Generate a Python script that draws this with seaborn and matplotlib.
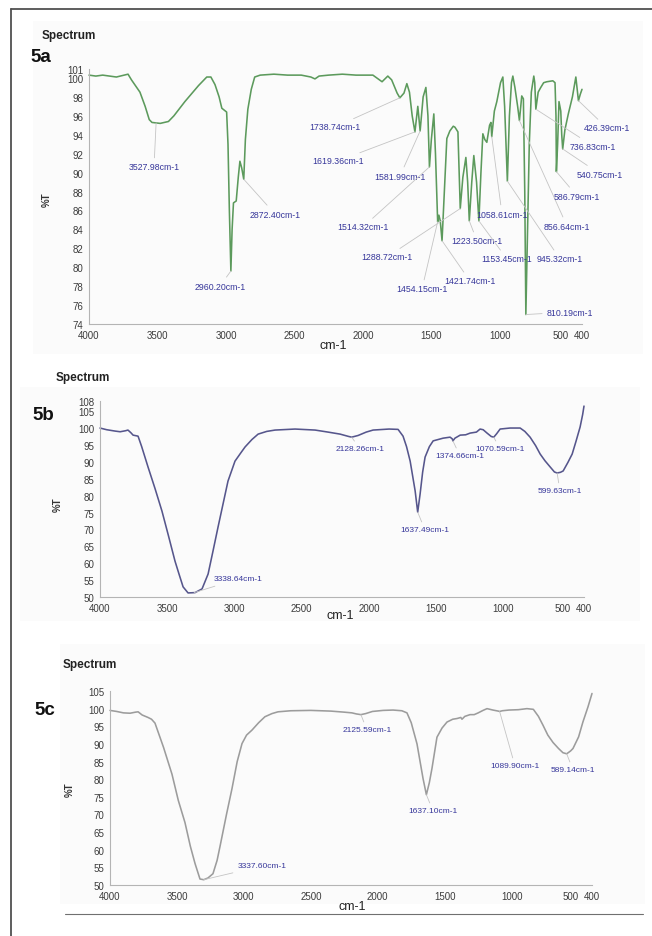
import numpy as np
import pandas as pd
import matplotlib
matplotlib.use("Agg")
import matplotlib.pyplot as plt
from matplotlib.lines import Line2D
from matplotlib.patches import Rectangle
import seaborn as sns

# ---------------- data ----------------
wn_a = [4000, 3950, 3900, 3850, 3800, 3715, 3690, 3628, 3590, 3560, 3540, 3480, 3420, 3380,
        3300, 3200, 3140, 3110, 3080, 3050, 3030, 2995, 2985, 2975, 2964, 2955, 2945, 2925,
        2910, 2898, 2885, 2870, 2858, 2840, 2815, 2790, 2750, 2650, 2550, 2450, 2380, 2350,
        2320, 2250, 2150, 2050, 1950, 1927, 1880, 1860, 1818, 1790, 1750, 1730, 1700, 1679,
        1660, 1640, 1620, 1599, 1582, 1560, 1540, 1525, 1514, 1500, 1482, 1470, 1454, 1445,
        1435, 1422, 1405, 1387, 1365, 1340, 1328, 1306, 1289, 1270, 1248, 1235, 1223, 1205,
        1190, 1170, 1153, 1138, 1124, 1110, 1095, 1075, 1065, 1059, 1040, 1022, 995, 978,
        965, 955, 945, 930, 915, 905, 890, 870, 857, 840, 828, 818, 810, 800, 785, 770,
        752, 745, 737, 720, 701, 680, 657, 613, 597, 590, 587, 578, 568, 555, 548, 541,
        525, 500, 470, 445, 430, 426, 412, 400]
t_a = [100.3, 100.2, 100.3, 100.2, 100.1, 100.4, 99.8, 98.5, 97.0, 95.6, 95.3, 95.2, 95.4, 96.0,
       97.5, 99.2, 100.1, 100.1, 99.3, 98.0, 96.8, 96.4, 93.0, 86.0, 79.6, 84.0, 86.8, 87.0,
       89.5, 91.2, 90.5, 89.3, 93.5, 96.7, 98.8, 100.1, 100.3, 100.4, 100.3, 100.3, 100.1, 99.9,
       100.2, 100.3, 100.4, 100.3, 100.3, 100.3, 99.8, 99.6, 100.2, 99.8, 98.4, 97.9, 98.4, 99.4,
       98.5, 96.0, 94.3, 97.0, 94.4, 98.0, 99.0, 96.0, 90.6, 93.5, 96.2, 92.0, 84.8, 85.5,
       84.9, 82.8, 88.0, 93.6, 94.4, 94.9, 94.8, 94.3, 86.2, 89.5, 91.6, 89.0, 84.9, 89.0,
       91.8, 89.0, 84.9, 90.0, 94.1, 93.5, 93.2, 95.0, 95.3, 93.8, 96.5, 97.5, 99.5, 100.1,
       97.0, 93.0, 89.1, 96.0, 99.5, 100.2, 99.0, 97.0, 95.5, 98.1, 97.8, 88.0, 75.0, 82.0, 93.0, 98.5,
       100.2, 99.5, 96.7, 98.5, 99.0, 99.5, 99.6, 99.7, 99.5, 96.0, 90.1, 93.0, 97.5, 96.5, 94.0, 92.5,
       94.5, 96.2, 98.0, 100.1, 98.2, 97.6, 98.3, 98.8]

wn_b = [4000, 3950, 3888, 3850, 3810, 3792, 3770, 3754, 3717, 3690, 3643, 3590, 3539, 3490,
        3442, 3410, 3382, 3345, 3293, 3241, 3196, 3160, 3122, 3085, 3048, 2996, 2950, 2921,
        2870, 2824, 2760, 2698, 2549, 2400, 2304, 2214, 2150, 2128, 2080, 2020, 1969, 1850,
        1783, 1746, 1720, 1693, 1656, 1637, 1619, 1600, 1582, 1550, 1522, 1448, 1396, 1380,
        1375, 1360, 1321, 1280, 1247, 1200, 1173, 1150, 1121, 1090, 1071, 1050, 1024, 950,
        875, 840, 801, 760, 726, 690, 652, 620, 600, 575, 555, 520, 488, 460, 429, 410, 400]
t_b = [100.0, 99.5, 99.1, 98.9, 99.2, 99.4, 98.6, 97.9, 97.6, 94.5, 88.5, 82.0, 75.4, 68.0,
       60.6, 56.5, 53.0, 51.2, 51.3, 52.4, 56.8, 63.5, 70.7, 77.5, 84.3, 90.2, 92.8, 94.4,
       96.6, 98.2, 99.0, 99.4, 99.7, 99.4, 98.8, 98.2, 97.5, 97.3, 97.8, 98.8, 99.4, 99.7,
       99.6, 97.6, 94.5, 90.2, 81.4, 75.1, 80.5, 87.0, 91.4, 94.5, 96.2, 97.0, 97.3, 96.8,
       96.2, 97.0, 97.9, 98.0, 98.5, 98.8, 99.7, 99.5, 98.5, 97.5, 97.3, 98.3, 99.7, 100.0,
       100.0, 99.0, 97.3, 94.8, 92.3, 90.3, 88.5, 87.0, 86.7, 86.9, 87.3, 89.8, 92.3, 96.0, 100.3, 104.0, 106.5]

wn_c = [4000, 3950, 3900, 3850, 3810, 3790, 3760, 3716, 3690, 3664, 3600, 3537, 3490, 3440,
        3400, 3365, 3328, 3300, 3268, 3231, 3200, 3178, 3130, 3089, 3050, 3014, 2980, 2940,
        2890, 2843, 2790, 2745, 2650, 2500, 2350, 2250, 2193, 2160, 2126, 2090, 2040, 1960,
        1886, 1820, 1782, 1750, 1707, 1662, 1637, 1615, 1595, 1558, 1520, 1483, 1440, 1408,
        1380, 1371, 1350, 1311, 1280, 1250, 1214, 1184, 1140, 1100, 1090, 1070, 1020, 950,
        886, 838, 800, 766, 730, 691, 650, 617, 589, 560, 542, 500, 468, 430, 400]
t_c = [99.5, 99.2, 98.8, 98.7, 99.0, 99.1, 98.2, 97.5, 97.0, 95.9, 89.0, 81.4, 74.0, 67.7,
       61.0, 56.1, 51.7, 51.5, 52.0, 53.2, 57.0, 61.0, 70.0, 77.3, 85.0, 90.1, 92.5, 93.9,
       96.0, 97.7, 98.6, 99.1, 99.4, 99.5, 99.3, 99.0, 98.8, 98.5, 98.3, 98.6, 99.2, 99.5,
       99.6, 99.4, 98.8, 96.0, 90.0, 80.2, 75.6, 79.0, 83.1, 91.9, 94.5, 96.2, 97.0, 97.2,
       97.5, 97.0, 97.8, 98.3, 98.3, 98.8, 99.5, 100.0, 99.6, 99.3, 99.2, 99.4, 99.6, 99.7,
       100.0, 99.8, 97.8, 95.3, 92.5, 90.4, 88.7, 87.5, 87.2, 88.0, 88.7, 92.0, 96.2, 100.5, 104.3]

# peak labels: text, peak wavenumber, label centre (pixel position in figure)
labels_a = ["3527.98cm-1", "2960.20cm-1", "2872.40cm-1", "1738.74cm-1", "1619.36cm-1",
            "1581.99cm-1", "1514.32cm-1", "1288.72cm-1", "1454.15cm-1", "1421.74cm-1",
            "1223.50cm-1", "1058.61cm-1", "1153.45cm-1", "945.32cm-1", "856.64cm-1",
            "810.19cm-1", "586.79cm-1", "540.75cm-1", "736.83cm-1", "426.39cm-1"]
peaks_a = [3510, 2964, 2870, 1730, 1620, 1582, 1514, 1289, 1454, 1422,
           1223, 1059, 1153, 945, 857, 810, 587, 541, 737, 426]
lpos_a = [(154, 168), (220, 287), (275, 215), (335, 128), (338, 162),
          (400, 177), (363, 228), (387, 258), (422, 290), (470, 282),
          (477, 242), (502, 215), (507, 260), (560, 260), (567, 227),
          (570, 313), (577, 197), (600, 175), (593, 147), (607, 129)]

labels_b = ["3338.64cm-1", "2128.26cm-1", "1637.49cm-1", "1374.66cm-1", "1070.59cm-1", "599.63cm-1"]
peaks_b = [3300, 2128, 1637, 1375, 1071, 600]
lpos_b = [(238, 580), (360, 450), (425, 531), (460, 457), (500, 450), (560, 492)]

labels_c = ["3337.60cm-1", "2125.59cm-1", "1637.10cm-1", "1089.90cm-1", "589.14cm-1"]
peaks_c = [3300, 2126, 1637, 1090, 589]
lpos_c = [(262, 867), (367, 731), (433, 812), (515, 767), (573, 771)]

xticks = [4000, 3500, 3000, 2500, 2000, 1500, 1000, 500, 400]
yticks_a = [74, 76, 78, 80, 82, 84, 86, 88, 90, 92, 94, 96, 98, 100, 101]
yticks_b = [50, 55, 60, 65, 70, 75, 80, 85, 90, 95, 100, 105, 108]
yticks_c = [50, 55, 60, 65, 70, 75, 80, 85, 90, 95, 100, 105]

# ---------------- style ----------------
sns.set_style("white")
plt.rcParams['font.family'] = ['Liberation Sans', 'DejaVu Sans']

W, H = 652, 937
fig = plt.figure(figsize=(W / 100, H / 100), dpi=100)
fig.patch.set_facecolor('white')


def px(x, y):
    return (x / W, 1 - y / H)


def rect(l, t, r, b):
    return [l / W, 1 - b / H, (r - l) / W, (b - t) / H]


# faint panel backgrounds
for (l, t, r, b) in [(33, 22, 643, 355), (20, 388, 640, 622), (60, 645, 645, 905)]:
    fig.add_artist(Rectangle((l / W, 1 - b / H), (r - l) / W, (b - t) / H,
                             transform=fig.transFigure, facecolor='#fbfbfb',
                             edgecolor='none', zorder=0))

# page frame
fig.add_artist(Line2D([11 / W, 11 / W], [1 - 10 / H, 0], transform=fig.transFigure,
                      color='#505050', lw=1.3))
fig.add_artist(Line2D([11 / W, 1], [1 - 10 / H, 1 - 10 / H], transform=fig.transFigure,
                      color='#505050', lw=1.3))
fig.add_artist(Line2D([65 / W, 643 / W], [1 - 915 / H, 1 - 915 / H], transform=fig.transFigure,
                      color='#707070', lw=0.8))

panels = [
    dict(wn=wn_a, t=t_a, rect=rect(89, 69.5, 582, 325), ylim=(74, 101), yticks=yticks_a,
         color='#5c9a5c', labels=labels_a, peaks=peaks_a, lpos=lpos_a, lfs=6.3,
         spec=(69, 36), tag="5a", tagpos=(41, 57), ylab=(47, 200), xlab=(333, 346)),
    dict(wn=wn_b, t=t_b, rect=rect(100, 402, 584, 598), ylim=(50, 108), yticks=yticks_b,
         color='#56568c', labels=labels_b, peaks=peaks_b, lpos=lpos_b, lfs=6.0,
         spec=(83, 378), tag="5b", tagpos=(43, 415), ylab=(58, 505), xlab=(340, 616)),
    dict(wn=wn_c, t=t_c, rect=rect(110, 692, 592, 886), ylim=(50, 105), yticks=yticks_c,
         color='#9c9c9c', labels=labels_c, peaks=peaks_c, lpos=lpos_c, lfs=6.0,
         spec=(90, 665), tag="5c", tagpos=(45, 711), ylab=(70, 790), xlab=(352, 907)),
]

for p in panels:
    ax = fig.add_axes(p['rect'])
    ax.set_facecolor('none')
    df = pd.DataFrame({'wn': p['wn'], 'T': p['t']})
    sns.lineplot(data=df, x='wn', y='T', ax=ax, color=p['color'], lw=1.15,
                 sort=False, estimator=None)
    for ln in ax.lines:
        ln.set_clip_on(False)
    ax.set_xlim(4000, 400)
    ax.set_ylim(*p['ylim'])
    ax.set_xticks(xticks)
    ax.set_xticklabels([str(v) for v in xticks])
    ax.set_yticks(p['yticks'])
    ax.set_yticklabels([str(v) for v in p['yticks']])
    ax.set_xlabel('')
    ax.set_ylabel('')
    for s in ['top', 'right']:
        ax.spines[s].set_visible(False)
    for s in ['left', 'bottom']:
        ax.spines[s].set_color('#b4b4b4')
        ax.spines[s].set_linewidth(0.8)
    ax.tick_params(axis='both', which='both', direction='out', length=2.5, width=0.6,
                   color='#999999', labelsize=7, labelcolor='#3c3c3c', pad=1.5)
    # "500400" as in the source software
    xtl = ax.get_xticklabels()
    xtl[7].set_ha('right')

    # peak annotations
    xs = np.array(p['wn'][::-1], dtype=float)
    ys = np.array(p['t'][::-1], dtype=float)
    for lab, pk, (lx, ly) in zip(p['labels'], p['peaks'], p['lpos']):
        yv = np.interp(pk, xs, ys)
        ax.annotate(lab, xy=(pk, yv), xycoords='data',
                    xytext=px(lx, ly), textcoords='figure fraction',
                    ha='center', va='center', fontsize=p['lfs'], color='#36369a',
                    arrowprops=dict(arrowstyle='-', color='#c4c4c4', lw=0.6,
                                    shrinkA=1, shrinkB=0),
                    annotation_clip=False)

    fig.text(*px(*p['spec']), "Spectrum", ha='center', va='center', fontsize=8.5,
             fontweight='bold', color='#222222')
    fig.text(*px(*p['tagpos']), p['tag'], ha='center', va='center', fontsize=13.5,
             fontweight='bold', color='#111111')
    fig.text(*px(*p['ylab']), "%T", ha='center', va='center', fontsize=7,
             fontweight='bold', rotation=90, color='#333333')
    fig.text(*px(*p['xlab']), "cm-1", ha='center', va='center', fontsize=9,
             color='#222222')

fig.savefig("out.png", dpi=100)
